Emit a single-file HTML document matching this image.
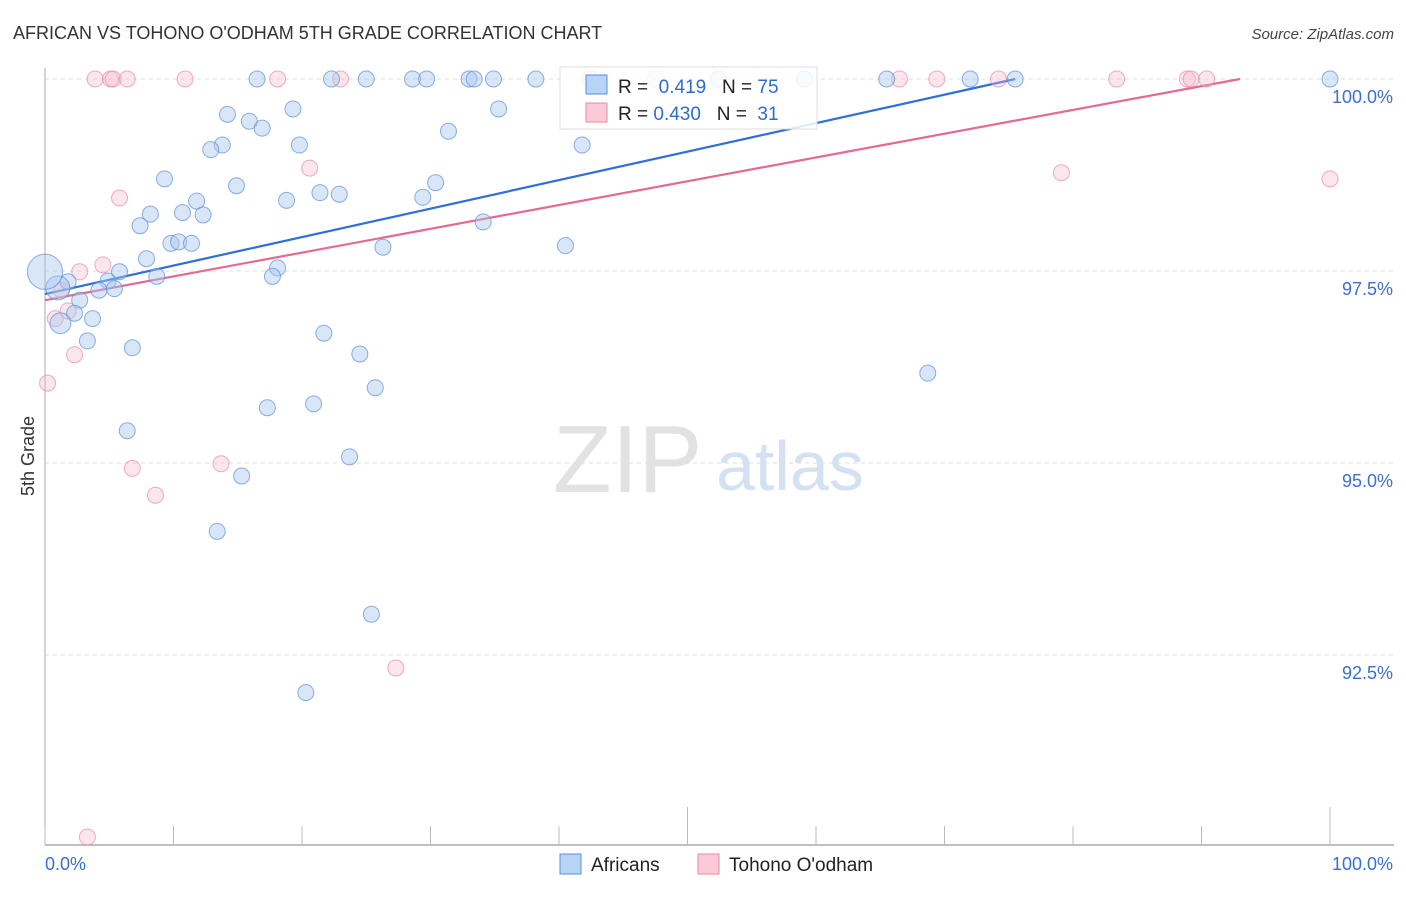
<!DOCTYPE html>
<html><head><meta charset="utf-8"><style>
body{margin:0;background:#fff;font-family:"Liberation Sans",sans-serif;}
svg text{font-family:"Liberation Sans",sans-serif;}
</style></head><body>
<svg id="chart" width="1406" height="892" xmlns="http://www.w3.org/2000/svg">
<text x="13" y="39" font-size="18" fill="#333">AFRICAN VS TOHONO O'ODHAM 5TH GRADE CORRELATION CHART</text>
<text x="1394" y="39" font-size="15" fill="#444" text-anchor="end" font-style="italic">Source: ZipAtlas.com</text>
<g>
<text x="553" y="492" font-size="96" font-family="Liberation Serif" fill="#e2e2e2">ZIP</text>
<text x="716" y="490" font-size="70" fill="#d3e1f3">atlas</text>
</g>
<g id="grid"></g>
<g id="axes"></g>
<g id="trend"></g>
<g id="pts"></g>
<text transform="translate(34,456) rotate(-90)" font-size="18" fill="#333" text-anchor="middle">5th Grade</text>
<g>
<rect x="560" y="67" width="257" height="62" fill="#fff" fill-opacity="0.85" stroke="#ddd"/>
<rect x="586" y="75" width="21" height="19" fill="#b7d3f5" stroke="#5d8fd6"/>
<rect x="586" y="103" width="21" height="19" fill="#fbc9d7" stroke="#e88aa5"/>
<text x="618" y="93" font-size="19" fill="#222">R = <tspan fill="#2f6cd0">&#160;0.419</tspan>&#160;&#160; N = <tspan fill="#2f6cd0">75</tspan></text>
<text x="618" y="120" font-size="19" fill="#222">R = <tspan fill="#2f6cd0">0.430</tspan>&#160;&#160; N = <tspan fill="#2f6cd0">&#160;31</tspan></text>
</g>
<g>
<rect x="560" y="854" width="21" height="20" fill="#b7d3f5" stroke="#5d8fd6"/>
<text x="591" y="871" font-size="19" fill="#222">Africans</text>
<rect x="698" y="854" width="21" height="20" fill="#fbc9d7" stroke="#e88aa5"/>
<text x="729" y="871" font-size="19" fill="#222">Tohono O'odham</text>
</g>
</svg>
<script>
const xTicks=[0,10,20,30,40,50,60,70,80,90,100];
const yTickVals=[100,97.5,95,92.5];
const yTickLabels=["100.0%","97.5%","95.0%","92.5%"];
const africansX=[16.5,22.3,25.0,28.6,29.7,33.0,33.4,34.9,38.2,42.4,52.4,59.1,65.5,72.0,75.5,100,19.3,35.3,14.2,15.9,16.9,31.4,13.8,12.9,19.8,41.8,9.3,14.9,30.4,21.4,22.9,11.8,18.8,29.4,8.2,10.7,12.3,7.4,34.1,9.8,10.4,11.4,26.3,40.5,7.9,18.1,17.7,5.8,8.7,1.8,4.9,4.2,5.4,1.0,2.7,2.3,3.7,1.2,3.3,6.8,21.7,24.5,68.7,25.7,17.3,20.9,6.4,23.7,15.3,13.4,25.4,20.3,0];
const africansY=[100,100,100,100,100,100,100,100,100,100,100,100,100,100,100,100,99.61,99.61,99.54,99.45,99.36,99.32,99.14,99.08,99.14,99.14,98.70,98.61,98.65,98.52,98.50,98.41,98.42,98.46,98.24,98.26,98.23,98.09,98.14,97.86,97.88,97.86,97.81,97.83,97.66,97.54,97.43,97.49,97.43,97.36,97.37,97.25,97.27,97.28,97.12,96.95,96.88,96.82,96.59,96.50,96.69,96.42,96.17,95.98,95.72,95.77,95.42,95.08,94.83,94.11,93.03,92.01,97.49];
const africansSize=[1,1,1,1,1,1,1,1,1,1,1,1,1,1,1,1,1,1,1,1,1,1,1,1,1,1,1,1,1,1,1,1,1,1,1,1,1,1,1,1,1,1,1,1,1,1,1,1,1,1,1,1,1,1.5,1,1,1,1.3,1,1,1,1,1,1,1,1,1,1,1,1,1,1,2.2];
const tohonoX=[3.9,5.1,5.3,6.4,10.9,18.1,23.0,47.5,66.5,69.4,74.2,83.4,88.9,89.2,90.4,20.6,79.1,100,5.8,4.5,2.7,1.3,0.8,1.8,2.3,0.2,6.8,13.7,8.6,27.3,3.3];
const tohonoY=[100,100,100,100,100,100,100,100,100,100,100,100,100,100,100,98.84,98.78,98.70,98.45,97.58,97.49,97.25,96.88,96.98,96.41,96.04,94.93,94.99,94.58,92.33,90.13];
const trendIntercept=[97.20,97.12];
const trendEnd=[75.5,93];
const NS='http://www.w3.org/2000/svg';
const X0=45,X1=1330,Y100=79,PPU=76.8;
const sx=v=>X0+(X1-X0)*v/100;
const sy=v=>Y100+(100-v)*PPU;
function mk(tag,attrs,parent){const e=document.createElementNS(NS,tag);for(const k in attrs)e.setAttribute(k,attrs[k]);parent.appendChild(e);return e;}
const grid=document.getElementById('grid'),axes=document.getElementById('axes');
yTickVals.forEach((v,i)=>{
 const l=mk('line',{x1:45,x2:1394,y1:sy(v),y2:sy(v),stroke:'#ddd','stroke-dasharray':'4,4'},grid);
 
 
 const t=mk('text',{x:1393,y:sy(v)+24,'font-size':18,fill:'#3a6fd0','text-anchor':'end'},axes);
 t.textContent=yTickLabels[i];
 
 
});
mk('line',{x1:45,x2:45,y1:68,y2:845,stroke:'#aaa'},axes);
mk('line',{x1:45,x2:1394,y1:845,y2:845,stroke:'#aaa','stroke-width':1.5},axes);
xTicks.forEach(v=>{
 const top=(v===50||v===100)?807:826;
 const l=mk('line',{x1:sx(v),x2:sx(v),y1:top,y2:845,stroke:'#bbb'},axes);
 
 
});
const xl=mk('text',{x:45,y:870,'font-size':18,fill:'#3a6fd0'},axes);xl.textContent='0.0%';


const xr=mk('text',{x:1393,y:870,'font-size':18,fill:'#3a6fd0','text-anchor':'end'},axes);xr.textContent='100.0%';


const pts=document.getElementById('pts');
tohonoX.forEach((x,i)=>{
 const c=mk('circle',{cx:sx(x),cy:sy(tohonoY[i]),r:8,fill:'#f7b8ca','fill-opacity':0.35,stroke:'#e88aa5','stroke-opacity':0.7},pts);
 
 
});
africansX.forEach((x,i)=>{
 const c=mk('circle',{cx:sx(x),cy:sy(africansY[i]),r:8*africansSize[i],fill:'#a9c8f0','fill-opacity':0.45,stroke:'#5d8fd6','stroke-opacity':0.7},pts);
 
 
});
const tr=document.getElementById('trend');
const cols=['#2f6fd6','#e46a92'];
[0,1].forEach(i=>{
 const l=mk('line',{x1:sx(0),y1:sy(trendIntercept[i]),x2:sx(trendEnd[i]),y2:sy(100),stroke:cols[i],'stroke-width':2.2},tr);
 
 
});
</script>
</body></html>
